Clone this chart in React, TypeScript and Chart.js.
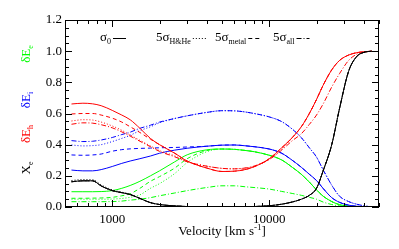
import React, { useEffect, useRef } from 'react';
import { Chart, registerables } from 'chart.js';

Chart.register(...registerables);

// ---------------- data ----------------
const velocity = [550, 650, 750, 850, 1000, 1150, 1300, 1500, 1750, 2000, 2500, 3000, 4000, 5000, 6000, 7000, 8000, 10000, 12000, 14000, 16000, 18000, 20000, 22000, 25000, 28000, 32000, 36000, 40000, 45000];

// delta E_h (red)
const redSigma0 = [0.661, 0.666, 0.662, 0.650, 0.620, 0.590, 0.560, 0.505, 0.440, 0.400, 0.345, 0.295, 0.250, 0.228, 0.230, 0.240, 0.258, 0.310, 0.380, 0.445, 0.515, 0.600, 0.690, 0.780, 0.880, 0.940, 0.975, 0.990, 0.996, 1.000];
const redHHe = [0.552, 0.560, 0.558, 0.545, 0.520, 0.492, 0.462, 0.428, 0.392, 0.362, 0.328, 0.292, 0.262, 0.248, 0.245, 0.250, 0.262, 0.305, 0.370, 0.445, 0.515, 0.600, 0.690, 0.780, 0.880, 0.940, 0.975, 0.990, 0.996, 1.000];
const redMetal = [0.597, 0.600, 0.600, 0.590, 0.570, 0.545, 0.515, 0.478, 0.435, 0.400, 0.345, 0.295, 0.250, 0.228, 0.230, 0.240, 0.258, 0.310, 0.380, 0.445, 0.515, 0.600, 0.690, 0.780, 0.880, 0.940, 0.975, 0.990, 0.996, 1.000];
const redAll = [0.531, 0.540, 0.538, 0.528, 0.508, 0.482, 0.455, 0.422, 0.387, 0.357, 0.322, 0.290, 0.262, 0.248, 0.245, 0.250, 0.262, 0.305, 0.365, 0.425, 0.470, 0.530, 0.590, 0.660, 0.770, 0.855, 0.940, 0.980, 0.993, 1.000];

// delta E_i (blue)
const blueSigma0 = [0.237, 0.232, 0.232, 0.240, 0.260, 0.280, 0.295, 0.310, 0.327, 0.345, 0.365, 0.377, 0.390, 0.397, 0.398, 0.393, 0.387, 0.372, 0.345, 0.300, 0.255, 0.210, 0.170, 0.120, 0.060, 0.030, 0.012, 0.005, 0.002, 0.000];
const blueHHe = [0.398, 0.392, 0.394, 0.400, 0.420, 0.440, 0.460, 0.490, 0.515, 0.540, 0.568, 0.585, 0.607, 0.618, 0.617, 0.610, 0.600, 0.578, 0.548, 0.500, 0.445, 0.380, 0.320, 0.240, 0.140, 0.070, 0.035, 0.018, 0.008, 0.000];
const blueMetal = [0.334, 0.332, 0.334, 0.340, 0.358, 0.368, 0.373, 0.376, 0.378, 0.380, 0.382, 0.385, 0.390, 0.397, 0.398, 0.393, 0.387, 0.372, 0.345, 0.300, 0.255, 0.210, 0.170, 0.120, 0.060, 0.030, 0.012, 0.005, 0.002, 0.000];
const blueAll = [0.426, 0.420, 0.422, 0.430, 0.446, 0.465, 0.480, 0.505, 0.525, 0.545, 0.568, 0.585, 0.607, 0.618, 0.617, 0.610, 0.600, 0.578, 0.548, 0.500, 0.445, 0.380, 0.320, 0.240, 0.140, 0.070, 0.035, 0.018, 0.008, 0.000];

// delta E_e (green)
const greenSigma0 = [0.098, 0.098, 0.098, 0.099, 0.105, 0.120, 0.138, 0.165, 0.200, 0.232, 0.290, 0.335, 0.367, 0.372, 0.370, 0.363, 0.355, 0.332, 0.302, 0.255, 0.210, 0.160, 0.110, 0.070, 0.035, 0.015, 0.006, 0.003, 0.001, 0.000];
const greenHHe = [0.050, 0.050, 0.050, 0.050, 0.051, 0.055, 0.062, 0.078, 0.120, 0.150, 0.215, 0.285, 0.355, 0.372, 0.370, 0.363, 0.355, 0.332, 0.302, 0.255, 0.210, 0.160, 0.110, 0.070, 0.035, 0.015, 0.006, 0.003, 0.001, 0.000];
const greenMetal = [0.056, 0.056, 0.057, 0.058, 0.062, 0.072, 0.085, 0.120, 0.165, 0.195, 0.250, 0.310, 0.362, 0.372, 0.370, 0.363, 0.355, 0.332, 0.302, 0.255, 0.210, 0.160, 0.110, 0.070, 0.035, 0.015, 0.006, 0.003, 0.001, 0.000];
const greenAll = [0.034, 0.034, 0.034, 0.034, 0.035, 0.038, 0.044, 0.050, 0.060, 0.072, 0.090, 0.105, 0.125, 0.136, 0.136, 0.130, 0.125, 0.115, 0.100, 0.087, 0.075, 0.062, 0.050, 0.032, 0.016, 0.007, 0.003, 0.001, 0.000, 0.000];

// X_e (black)
const blackSigma0 = [0.162, 0.168, 0.168, 0.135, 0.105, 0.092, 0.080, 0.055, 0.028, 0.016, 0.007, 0.003, 0.001, 0.001, 0.001, 0.002, 0.003, 0.008, 0.018, 0.032, 0.050, 0.075, 0.120, 0.230, 0.400, 0.630, 0.870, 0.965, 0.992, 1.000];
const blackHHe = [0.170, 0.176, 0.175, 0.142, 0.110, 0.095, 0.082, 0.056, 0.029, 0.016, 0.007, 0.003, 0.001, 0.001, 0.001, 0.002, 0.003, 0.008, 0.018, 0.032, 0.050, 0.075, 0.120, 0.230, 0.400, 0.630, 0.870, 0.965, 0.992, 1.000];
const blackMetal = blackSigma0;
const blackAll = blackSigma0;

const xMin = 500;
const xMax = 50000;
const yMin = 0;
const yMax = 1.2;
const yStep = 0.05;

// ---------------- styling ----------------
const FONT = '"Liberation Serif", "Times New Roman", serif';
const DOT = [1, 2];
const DASH = [4, 3];
const DASHDOT = [5, 2, 1, 2];

const isPow10 = (v: number) => Math.abs(Math.log10(v) - Math.round(Math.log10(v))) < 1e-9;
const isIntSignificand = (v: number) => {
  const p = Math.pow(10, Math.floor(Math.log10(v) + 1e-9));
  const s = v / p;
  return Math.abs(s - Math.round(s)) < 1e-6;
};
const isYMajor = (v: number) => Math.abs(v / 0.2 - Math.round(v / 0.2)) < 1e-6;

type Part = { t: string; s?: 'sub' | 'sup' };

function measureParts(ctx: CanvasRenderingContext2D, parts: Part[], size: number, small: number) {
  let w = 0;
  for (const p of parts) {
    ctx.font = `${p.s ? small : size}px ${FONT}`;
    w += ctx.measureText(p.t).width;
  }
  return w;
}

function drawParts(ctx: CanvasRenderingContext2D, parts: Part[], x: number, y: number, size: number, small: number, color: string) {
  ctx.fillStyle = color;
  ctx.textBaseline = 'middle';
  ctx.textAlign = 'left';
  let cx = x;
  for (const p of parts) {
    ctx.font = `${p.s ? small : size}px ${FONT}`;
    const dy = p.s === 'sub' ? size * 0.3 : p.s === 'sup' ? -size * 0.35 : 0;
    ctx.fillText(p.t, cx, y + dy);
    cx += ctx.measureText(p.t).width;
  }
  return cx;
}

const textPlugin = {
  id: 'textPlugin',
  afterDraw(chart: any) {
    const { ctx, chartArea: a, scales } = chart;
    const x = scales.x;
    const y = scales.y;
    ctx.save();
    // frame
    ctx.strokeStyle = '#000';
    ctx.lineWidth = 1;
    ctx.setLineDash([]);
    ctx.strokeRect(Math.round(a.left) + 0.5, Math.round(a.top) + 0.5, Math.round(a.right - a.left) - 1, Math.round(a.bottom - a.top) - 1);
    // inward ticks
    ctx.beginPath();
    for (const t of x.ticks) {
      if (!isIntSignificand(t.value)) continue;
      const px = Math.round(x.getPixelForValue(t.value)) + 0.5;
      const len = isPow10(t.value) ? 7 : 4;
      ctx.moveTo(px, a.bottom);
      ctx.lineTo(px, a.bottom - len);
      ctx.moveTo(px, a.top);
      ctx.lineTo(px, a.top + len);
    }
    for (const t of y.ticks) {
      const py = Math.round(y.getPixelForValue(t.value)) + 0.5;
      const len = isYMajor(t.value) ? 7 : 4;
      ctx.moveTo(a.left, py);
      ctx.lineTo(a.left + len, py);
      ctx.moveTo(a.right, py);
      ctx.lineTo(a.right - len, py);
    }
    ctx.stroke();

    // legend
    const ly = 38;
    const legend: { parts: Part[]; x: number; dash: number[] }[] = [
      { parts: [{ t: 'σ' }, { t: '0', s: 'sub' }], x: 100, dash: [] },
      { parts: [{ t: '5σ' }, { t: 'H&He', s: 'sub' }], x: 156, dash: DOT },
      { parts: [{ t: '5σ' }, { t: 'metal', s: 'sub' }], x: 215, dash: DASH },
      { parts: [{ t: '5σ' }, { t: 'all', s: 'sub' }], x: 273, dash: DASHDOT },
    ];
    for (const item of legend) {
      const end = drawParts(ctx, item.parts, item.x, ly, 13, 8, '#000');
      ctx.beginPath();
      ctx.setLineDash(item.dash);
      ctx.strokeStyle = '#000';
      ctx.moveTo(end + 2, ly + 0.5);
      ctx.lineTo(end + 15, ly + 0.5);
      ctx.stroke();
    }
    ctx.setLineDash([]);

    // x title
    const title: Part[] = [{ t: 'Velocity [km s' }, { t: '-1', s: 'sup' }, { t: ']' }];
    const tw = measureParts(ctx, title, 13, 9);
    drawParts(ctx, title, (a.left + a.right) / 2 - tw / 2, 232, 13, 9, '#000');

    // left rotated labels
    const side: { parts: Part[]; cy: number; color: string }[] = [
      { parts: [{ t: 'δE' }, { t: 'e', s: 'sub' }], cy: 54, color: '#00ff00' },
      { parts: [{ t: 'δE' }, { t: 'i', s: 'sub' }], cy: 100, color: '#0000ff' },
      { parts: [{ t: 'δE' }, { t: 'h', s: 'sub' }], cy: 134, color: '#ff0000' },
      { parts: [{ t: 'X' }, { t: 'e', s: 'sub' }], cy: 168, color: '#000000' },
    ];
    for (const s of side) {
      const w = measureParts(ctx, s.parts, 13, 8);
      ctx.save();
      ctx.translate(27, s.cy);
      ctx.rotate(-Math.PI / 2);
      drawParts(ctx, s.parts, -w / 2, 0, 13, 8, s.color);
      ctx.restore();
    }
    ctx.restore();
  },
};

function series(label: string, values: number[], color: string, dash: number[]) {
  return {
    label,
    data: velocity.map((v, i) => ({ x: v, y: values[i] })),
    borderColor: color,
    backgroundColor: color,
    borderWidth: 1,
    borderDash: dash,
    pointRadius: 0,
    fill: false,
    cubicInterpolationMode: 'monotone' as const,
  };
}

export default function App() {
  const ref = useRef<HTMLCanvasElement | null>(null);
  useEffect(() => {
    document.body.style.margin = '0';
    const canvas = ref.current;
    if (!canvas) return;
    const chart = new Chart(canvas, {
      type: 'line',
      data: {
        datasets: [
          series('X_e σ0', blackSigma0, '#000000', []),
          series('X_e 5σ H&He', blackHHe, '#000000', DOT),
          series('X_e 5σ metal', blackMetal, '#000000', DASH),
          series('X_e 5σ all', blackAll, '#000000', DASHDOT),
          series('δE_h σ0', redSigma0, '#ff0000', []),
          series('δE_h 5σ H&He', redHHe, '#ff0000', DOT),
          series('δE_h 5σ metal', redMetal, '#ff0000', DASH),
          series('δE_h 5σ all', redAll, '#ff0000', DASHDOT),
          series('δE_i σ0', blueSigma0, '#0000ff', []),
          series('δE_i 5σ H&He', blueHHe, '#0000ff', DOT),
          series('δE_i 5σ metal', blueMetal, '#0000ff', DASH),
          series('δE_i 5σ all', blueAll, '#0000ff', DASHDOT),
          series('δE_e σ0', greenSigma0, '#00ff00', []),
          series('δE_e 5σ H&He', greenHHe, '#00ff00', DOT),
          series('δE_e 5σ metal', greenMetal, '#00ff00', DASH),
          series('δE_e 5σ all', greenAll, '#00ff00', DASHDOT),
        ],
      },
      options: {
        animation: false,
        responsive: false,
        devicePixelRatio: 1,
        events: [],
        layout: { padding: { left: 0, right: 20, top: 20, bottom: 0 } },
        plugins: { legend: { display: false }, tooltip: { enabled: false }, title: { display: false } },
        scales: {
          x: {
            type: 'logarithmic',
            min: xMin,
            max: xMax,
            grid: { display: false, drawTicks: false },
            border: { display: false },
            ticks: {
              autoSkip: false,
              maxRotation: 0,
              minRotation: 0,
              padding: 5,
              color: '#000',
              font: { family: FONT, size: 13 },
              callback: (v: any) => (isPow10(Number(v)) ? String(Number(v)) : ''),
            },
            afterFit: (s: any) => {
              s.height = 42;
            },
          },
          y: {
            type: 'linear',
            min: yMin,
            max: yMax,
            grid: { display: false, drawTicks: false },
            border: { display: false },
            ticks: {
              stepSize: yStep,
              autoSkip: false,
              padding: 3,
              color: '#000',
              font: { family: FONT, size: 13 },
              callback: (v: any) => (isYMajor(Number(v)) ? Number(v).toFixed(1) : ''),
            },
            afterFit: (s: any) => {
              s.width = 65;
            },
          },
        },
      },
      plugins: [textPlugin],
    });
    return () => chart.destroy();
  }, []);
  return (
    <div style={{ width: 399, height: 249 }}>
      <canvas ref={ref} width={399} height={249} style={{ display: 'block', width: 399, height: 249 }} />
    </div>
  );
}
